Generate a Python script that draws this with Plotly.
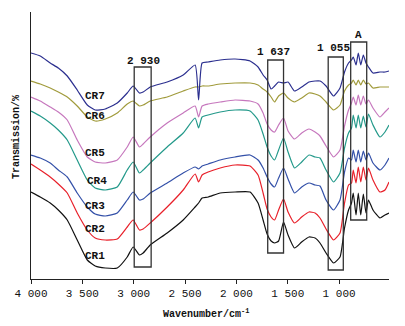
import plotly.graph_objects as go

# Wavenumber grid (cm^-1)
WAVENUMBER = [4000, 3910, 3813, 3734, 3647, 3550, 3452, 3375, 3277, 3160,
              3063, 3005, 2944, 2908, 2839, 2674, 2518, 2402, 2368, 2334,
              2275, 2158, 2013, 1867, 1789, 1740, 1701, 1662, 1628, 1589,
              1541, 1497, 1434, 1364, 1293, 1234, 1186, 1127, 1054, 991,
              947, 908, 879, 862, 835, 813, 789, 764, 738, 714,
              670, 602, 553, 514]

# Transmission (arbitrary units, curves offset vertically)
CR7 = [226, 223, 216, 211, 203, 189, 174, 169, 170, 176,
       186, 193, 186, 187, 192, 197, 204, 214, 179, 216,
       217, 219, 220, 218, 212, 204, 199, 190, 193, 197,
       196, 197, 188, 192, 197, 198, 198, 193, 183, 191,
       207, 216, 219, 222, 214, 226, 214, 224, 216, 212,
       206, 207, 207, 208]
CR6 = [198, 195, 191, 187, 182, 173, 162, 158, 160, 166,
       175, 178, 173, 174, 178, 182, 188, 192, 192, 193,
       193, 195, 196, 196, 194, 190, 187, 182, 177, 183,
       186, 181, 177, 181, 186, 185, 183, 177, 169, 174,
       188, 194, 196, 199, 194, 199, 194, 199, 195, 196,
       191, 192, 192, 192]
CR5 = [182, 178, 172, 167, 159, 139, 122, 117, 116, 119,
       132, 142, 132, 135, 142, 156, 166, 173, 162, 173,
       175, 177, 179, 178, 175, 166, 155, 149, 147, 154,
       161, 148, 140, 146, 150, 147, 143, 133, 122, 129,
       153, 169, 176, 182, 174, 184, 174, 183, 175, 179,
       171, 162, 167, 171]
CR4 = [168, 163, 156, 149, 139, 119, 99, 91, 89, 92,
       109, 117, 106, 109, 116, 132, 146, 161, 151, 162,
       164, 167, 169, 168, 159, 145, 132, 123, 119, 129,
       141, 127, 111, 117, 124, 122, 121, 109, 97, 106,
       131, 146, 151, 164, 151, 164, 151, 163, 152, 165,
       154, 142, 147, 154]
CR3 = [124, 121, 116, 109, 102, 86, 72, 65, 63, 66,
       79, 87, 79, 80, 86, 96, 106, 112, 110, 113,
       115, 119, 122, 124, 119, 111, 102, 95, 92, 101,
       111, 100, 86, 92, 96, 94, 93, 79, 69, 79,
       107, 121, 119, 129, 117, 129, 117, 128, 119, 126,
       116, 109, 114, 121]
CR2 = [115, 109, 102, 95, 86, 66, 49, 41, 39, 40,
       52, 59, 49, 50, 56, 72, 89, 105, 97, 104,
       107, 111, 114, 113, 104, 86, 70, 62, 59, 69,
       80, 67, 56, 62, 67, 66, 61, 50, 39, 46,
       76, 94, 96, 109, 96, 112, 97, 112, 99, 111,
       99, 87, 89, 97]
CR1 = [87, 82, 76, 69, 59, 39, 19, 13, 11, 11,
       22, 32, 24, 26, 34, 46, 59, 72, 76, 81,
       82, 86, 87, 87, 76, 59, 45, 38, 36, 38,
       57, 44, 31, 37, 42, 41, 36, 26, 16, 22,
       51, 69, 76, 86, 64, 86, 64, 85, 66, 79,
       69, 61, 64, 66]

SERIES_NAMES = ["CR1", "CR2", "CR3", "CR4", "CR5", "CR6", "CR7"]
SERIES_COLORS = ["#111111", "#E8202A", "#3350A8", "#23998A", "#C677BD", "#A19B3C", "#2B2F8F"]
LABEL_X = [3375, 3375, 3375, 3358, 3375, 3375, 3375]
LABEL_Y = [23, 50, 73, 98, 126, 163, 183]

# Marked bands
BOX_LABELS = ["2 930", "1 637", "1 055", "A"]
BOX_X0 = [2995, 1695, 1106, 887]
BOX_X1 = [2830, 1541, 959, 731]
BOX_Y0 = [12, 26, 9, 59]
BOX_Y1 = [212, 219, 222, 237]
BOX_LABEL_X = [2908, 1643, 1059, 809]
BOX_LABEL_Y = [218, 227, 231, 244]

TICK_VALS = [4000, 3500, 3000, 2500, 2000, 1500, 1000]
TICK_TEXT = ["4 000", "3 500", "3 000", "2 500", "2 000", "1 500", "1 000"]

FONT = "Liberation Mono"

all_series = [CR1, CR2, CR3, CR4, CR5, CR6, CR7]

fig = go.Figure()
for name, color, ys in zip(SERIES_NAMES, SERIES_COLORS, all_series):
    fig.add_trace(go.Scatter(x=WAVENUMBER, y=ys, mode="lines", name=name,
                             line=dict(color=color, width=1.2, shape="spline", smoothing=0.5),
                             showlegend=False))

for name, lx, ly in zip(SERIES_NAMES, LABEL_X, LABEL_Y):
    fig.add_annotation(x=lx, y=ly, xref="x", yref="y", text="<b>%s</b>" % name,
                       showarrow=False, font=dict(family=FONT, size=11, color="#111111"))

for lab, x0, x1, y0, y1, lx, ly in zip(BOX_LABELS, BOX_X0, BOX_X1, BOX_Y0, BOX_Y1,
                                       BOX_LABEL_X, BOX_LABEL_Y):
    fig.add_shape(type="rect", xref="x", yref="y", x0=x0, x1=x1, y0=y0, y1=y1,
                  line=dict(color="#333333", width=1.3), fillcolor="rgba(0,0,0,0)")
    fig.add_annotation(x=lx, y=ly, xref="x", yref="y", text="<b>%s</b>" % lab,
                       showarrow=False, font=dict(family=FONT, size=11, color="#111111"))

fig.add_annotation(x=0.49, y=-0.16, xref="paper", yref="paper",
                   text="<b>Wavenumber/cm<sup>-1</sup></b>", showarrow=False,
                   font=dict(family=FONT, size=10, color="#111111"))
fig.add_annotation(x=-0.06, y=0.532, xref="paper", yref="paper",
                   text="<b>Transmission/%</b>", showarrow=False, textangle=-90,
                   font=dict(family=FONT, size=10, color="#111111"))

# the page body adds an 8px margin, so the figure is 8px smaller and margins compensate
fig.update_layout(
    width=397, height=318,
    margin=dict(l=23, r=16, t=4, b=47),
    paper_bgcolor="white", plot_bgcolor="white",
    xaxis=dict(range=[4000, 514], autorange=False, showgrid=False, zeroline=False,
               showline=True, linecolor="#222222", linewidth=1,
               ticks="outside", ticklen=4, tickcolor="#222222",
               tickvals=TICK_VALS, ticktext=TICK_TEXT,
               tickfont=dict(family=FONT, size=11, color="#111111")),
    yaxis=dict(range=[0, 267], autorange=False, showgrid=False, zeroline=False,
               showline=True, linecolor="#222222", linewidth=1,
               ticks="", showticklabels=False),
)

fig.write_html("out.html")
